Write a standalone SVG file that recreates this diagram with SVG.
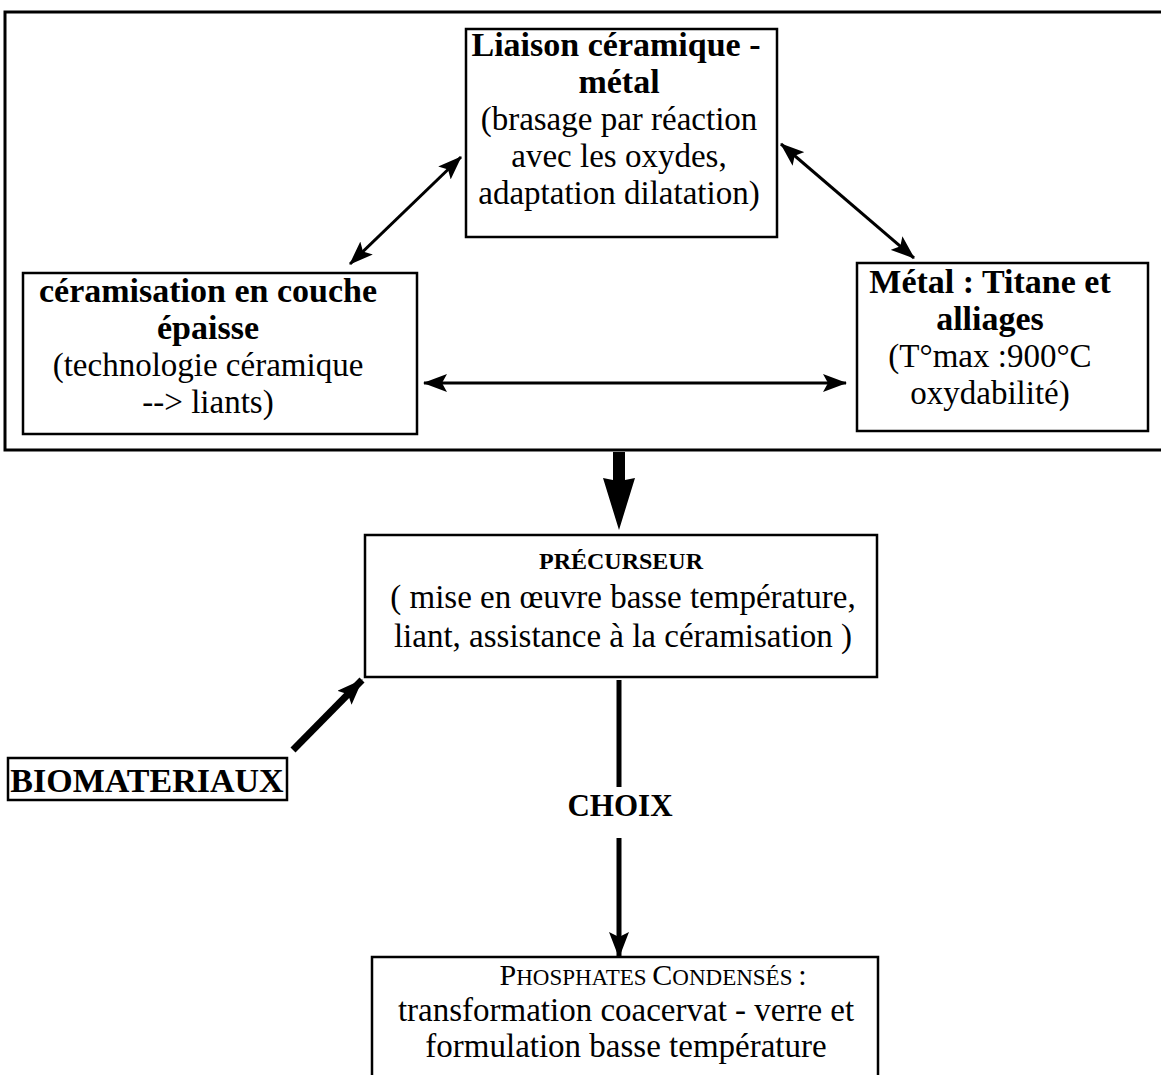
<svg xmlns="http://www.w3.org/2000/svg" width="1161" height="1075" viewBox="0 0 1161 1075">
  <style>
    .box { fill: #ffffff; stroke: #000; stroke-width: 2.5; }
    .frame { fill: none; stroke: #000; stroke-width: 3; }
    text { font-family: "Liberation Serif", "Times New Roman", serif; fill: #000; text-anchor: middle; }
    .b { font-weight: bold; font-size: 34px; }
    .r { font-size: 33px; }
    .thin { stroke: #000; stroke-width: 3; fill: none; }
    .thick { stroke: #000; stroke-width: 5; fill: none; }
  </style>
  <defs>
    <marker id="head" viewBox="0 0 24 18" refX="23" refY="9" markerWidth="24" markerHeight="18" markerUnits="userSpaceOnUse" orient="auto-start-reverse">
      <path d="M0,0 L24,9 L0,18 L5,9 Z" fill="#000"/>
    </marker>
    <marker id="headBig" viewBox="0 0 26 20" refX="25" refY="10" markerWidth="26" markerHeight="20" markerUnits="userSpaceOnUse" orient="auto">
      <path d="M0,0 L26,10 L0,20 L5,10 Z" fill="#000"/>
    </marker>
  </defs>

  <!-- enclosing frame around the three top blocks (open on the right) -->
  <path class="frame" d="M1161,12 H5 V450 H1161"/>

  <g id="connectors">
    <line class="thin" x1="350" y1="264" x2="461" y2="157" marker-start="url(#head)" marker-end="url(#head)"/>
    <line class="thin" x1="781" y1="144" x2="914" y2="258" marker-start="url(#head)" marker-end="url(#head)"/>
    <line class="thin" x1="424" y1="383" x2="846" y2="383" marker-start="url(#head)" marker-end="url(#head)"/>
    <!-- heavy arrow from the frame down to the precursor -->
    <polygon points="613,452 625,452 625,480 635,478 619,530 603,478 613,480" fill="#000"/>
    <line x1="293" y1="750" x2="362" y2="680" stroke="#000" stroke-width="7" marker-end="url(#headBig)"/>
    <line class="thick" x1="619" y1="680" x2="619" y2="787"/>
    <line class="thick" x1="619" y1="838" x2="619" y2="957" marker-end="url(#headBig)"/>
  </g>

  <g id="node-liaison">
    <rect class="box" x="466" y="29" width="311" height="208"/>
    <text class="b" x="616" y="56">Liaison céramique -</text>
    <text class="b" x="619" y="93">métal</text>
    <text class="r" x="619" y="130">(brasage par réaction</text>
    <text class="r" x="619" y="167">avec les oxydes,</text>
    <text class="r" x="619" y="204">adaptation dilatation)</text>
  </g>

  <g id="node-ceramisation">
    <rect class="box" x="23" y="273" width="394" height="161"/>
    <text class="b" x="208" y="302">céramisation en couche</text>
    <text class="b" x="208" y="339">épaisse</text>
    <text class="r" x="208" y="376">(technologie céramique</text>
    <text class="r" x="208" y="413">--&gt; liants)</text>
  </g>

  <g id="node-metal">
    <rect class="box" x="857" y="263" width="291" height="168"/>
    <text class="b" x="990" y="293">Métal : Titane et</text>
    <text class="b" x="990" y="330">alliages</text>
    <text class="r" x="990" y="367">(T°max :900°C</text>
    <text class="r" x="990" y="404">oxydabilité)</text>
  </g>

  <g id="node-precurseur">
    <rect class="box" x="365" y="535" width="512" height="142"/>
    <text x="621" y="569" style="font-weight:bold;font-size:24px">PRÉCURSEUR</text>
    <text class="r" x="623" y="608">( mise en œuvre basse température,</text>
    <text class="r" x="623" y="647">liant, assistance à la céramisation )</text>
  </g>

  <g id="node-biomateriaux">
    <rect class="box" x="8" y="758" width="279" height="42"/>
    <text class="b" x="147" y="792">BIOMATERIAUX</text>
  </g>

  <g id="label-choix">
    <text class="b" x="620" y="816" style="font-size:31px">CHOIX</text>
  </g>

  <g id="node-phosphates">
    <path class="box" d="M372,1078 V957 H878 V1078"/>
    <text x="653" y="985" style="font-size:30px"><tspan>P</tspan><tspan style="font-size:23px">HOSPHATES </tspan><tspan>C</tspan><tspan style="font-size:23px">ONDENSÉS </tspan><tspan>:</tspan></text>
    <text class="r" x="626" y="1021">transformation coacervat - verre et</text>
    <text class="r" x="626" y="1057">formulation basse température</text>
  </g>
</svg>
